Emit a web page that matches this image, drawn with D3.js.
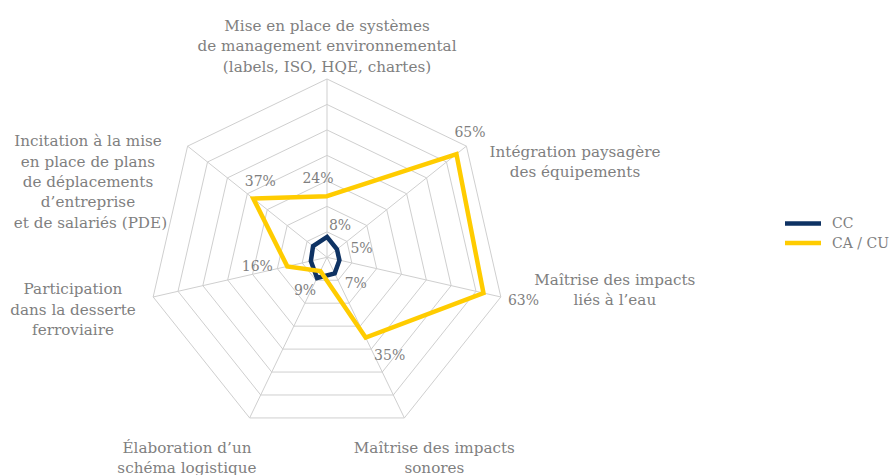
<!DOCTYPE html>
<html lang="fr">
<head>
    <meta charset="UTF-8">
    <script src="https://d3js.org/d3.v7.min.js" charset="utf-8"></script>
    <title>Radar</title>
    <style>
        body { margin: 0; background: #fff; }
        text { font-family: "DejaVu Serif", serif; fill: #7f7f7f; white-space: pre; }
    </style>
</head>
<body>
    <div id="chart"></div>
    <script>
        const width = 893;
        const height = 475;

        // categories, clockwise from the top (one text line per entry)
        const categories = [
            ["Mise en place de systèmes", "de management environnemental", "(labels, ISO, HQE, chartes)"],
            ["Intégration paysagère", "des équipements"],
            ["Maîtrise des impacts", "liés à l’eau"],
            ["Maîtrise des impacts", "sonores"],
            ["Élaboration d’un", "schéma logistique"],
            ["Participation", "dans la desserte", "ferroviaire"],
            ["Incitation à la mise", "en place de plans", "de déplacements", "d’entreprise", " et de salariés (PDE)"]
        ];

        const seriesNames = ["CC", "CA / CU"];
        const ccValues = [0.08, 0.05, 0.05, 0.07, 0.09, 0.065, 0.07];
        const caValues = [0.24, 0.65, 0.63, 0.35, 0.06, 0.16, 0.37];
        // which points carry a value label
        const ccLabelled = [true, true, false, true, true, false, false];
        const caLabelled = [true, true, true, true, false, true, true];

        const ticks = [0.1, 0.2, 0.3, 0.4, 0.5, 0.6, 0.7];
        const colors = ["#0e3263", "#ffcc00"];

        // layout
        const cx = 327, cy = 257.3, R = 178.3;
        const catOffsets = [[0, -33], [108.6, 15.5], [114, -7.3], [30, 39.7], [-62.7, 39.7], [-80.2, 12.4], [-99.6, 35.5]];
        const ccLabelOffsets = [[13, -12], [24.6, -1.7], [0, 0], [21, 10], [-12, 12], [0, 0], [0, 0]];
        const caLabelOffsets = [[-9, -18], [13.5, -22], [40, 7], [24, 17], [0, 0], [-30, 0], [7, -17]];

        const svg = d3.select("#chart").append("svg")
            .attr("width", width)
            .attr("height", height);

        const n = categories.length;
        const angle = d3.scaleLinear().domain([0, n]).range([0, 2 * Math.PI]);
        const r = d3.scaleLinear().domain([0, 0.7]).range([0, R]);

        const g = svg.append("g").attr("transform", `translate(${cx},${cy})`);

        const px = (i, v) => r(v) * Math.sin(angle(i));
        const py = (i, v) => -r(v) * Math.cos(angle(i));

        // grid rings
        const ring = d3.lineRadial()
            .angle((d, i) => angle(i))
            .radius(d => r(d))
            .curve(d3.curveLinearClosed);

        g.selectAll(".ring")
            .data(ticks)
            .enter()
            .append("path")
            .attr("d", t => ring(d3.range(n).map(() => t)))
            .attr("fill", "none")
            .attr("stroke", "#cfcfcf")
            .attr("stroke-width", 1);

        // spokes
        g.selectAll(".spoke")
            .data(d3.range(n))
            .enter()
            .append("line")
            .attr("x1", 0).attr("y1", 0)
            .attr("x2", i => px(i, 0.7))
            .attr("y2", i => py(i, 0.7))
            .attr("stroke", "#cfcfcf")
            .attr("stroke-width", 1);

        // category labels
        categories.forEach((lines, i) => {
            const lx = px(i, 0.7) + catOffsets[i][0];
            const ly = py(i, 0.7) + catOffsets[i][1];
            const lh = 20.3;
            const t = g.append("text")
                .attr("text-anchor", "middle")
                .attr("font-size", "15.2px");
            lines.forEach((line, k) => {
                t.append("tspan")
                    .attr("x", lx)
                    .attr("y", ly + (k - (lines.length - 1) / 2) * lh)
                    .attr("dy", "0.35em")
                    .text(line);
            });
        });

        // series
        const seriesLine = d3.lineRadial()
            .angle((d, i) => angle(i))
            .radius(d => r(d))
            .curve(d3.curveLinearClosed);

        [ccValues, caValues].forEach((vals, s) => {
            g.append("path")
                .attr("d", seriesLine(vals))
                .attr("fill", "none")
                .attr("stroke", colors[s])
                .attr("stroke-width", 4.5)
                .attr("stroke-linejoin", "miter");
        });

        // value labels
        const addLabels = (vals, flags, offsets) => {
            vals.forEach((v, i) => {
                if (!flags[i]) return;
                g.append("text")
                    .attr("x", px(i, v) + offsets[i][0])
                    .attr("y", py(i, v) + offsets[i][1])
                    .attr("dy", "0.35em")
                    .attr("text-anchor", "middle")
                    .attr("font-size", "14px")
                    .text(d3.format(".0%")(v));
            });
        };
        addLabels(caValues, caLabelled, caLabelOffsets);
        addLabels(ccValues, ccLabelled, ccLabelOffsets);

        // legend
        const legend = svg.append("g").attr("transform", "translate(785,223.5)");
        seriesNames.forEach((name, s) => {
            const row = legend.append("g").attr("transform", `translate(0,${s * 19.5})`);
            row.append("line")
                .attr("x1", 0).attr("x2", 36)
                .attr("stroke", colors[s])
                .attr("stroke-width", 4.5);
            row.append("text")
                .attr("x", 47)
                .attr("dy", "0.35em")
                .attr("font-size", "14px")
                .text(name);
        });
    </script>
</body>
</html>
